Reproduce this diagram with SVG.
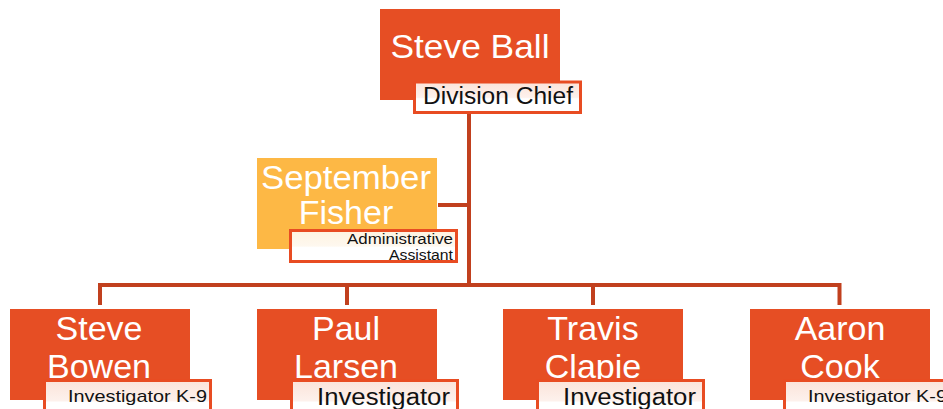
<svg xmlns="http://www.w3.org/2000/svg" width="943" height="409" viewBox="0 0 943 409">
<defs>
<linearGradient id="lg" x1="0" y1="0" x2="0" y2="1">
<stop offset="0" stop-color="#FBE3D9"/>
<stop offset="0.5" stop-color="#FDF1EC"/>
<stop offset="0.55" stop-color="#FFFFFF"/>
<stop offset="1" stop-color="#FFFFFF"/>
</linearGradient>
<linearGradient id="lgy" x1="0" y1="0" x2="0" y2="1">
<stop offset="0" stop-color="#FEF3E0"/>
<stop offset="0.5" stop-color="#FEF8EF"/>
<stop offset="0.55" stop-color="#FFFFFF"/>
<stop offset="1" stop-color="#FFFFFF"/>
</linearGradient>
</defs>
<style>
.box{fill:#E64E24;}
.boxy{fill:#FDB845;}
.lbl{fill:url(#lg);stroke:#E84C22;stroke-width:3;}
.lbly{fill:url(#lgy);stroke:#E84C22;stroke-width:3;}
.name{font-family:"Liberation Sans",Arial,sans-serif;fill:#FFFFFF;text-anchor:middle;font-size:34px;}
.t{font-family:"Liberation Sans",Arial,sans-serif;fill:#111111;}
.conn{stroke:#C1401E;stroke-width:4;fill:none;}
</style>
<rect width="943" height="409" fill="#FFFFFF"/>
<g id="connectors">
<path class="conn" d="M469 112 V285"/>
<path class="conn" d="M438 205 H469"/>
<path class="conn" d="M100 305 V285 H839.5 V305"/>
<path class="conn" d="M347 285 V305"/>
<path class="conn" d="M593 285 V305"/>
</g>
<g id="steve-ball">
<rect class="box" x="380" y="9" width="180" height="91"/>
<text class="name" x="470" y="58" textLength="159" lengthAdjust="spacingAndGlyphs">Steve Ball</text>
<rect class="lbl" x="414.5" y="82" width="166" height="30.5"/>
<text class="t" x="423" y="104" font-size="23" textLength="150" lengthAdjust="spacingAndGlyphs">Division Chief</text>
</g>
<g id="september-fisher">
<rect class="boxy" x="257" y="158" width="180" height="91"/>
<text class="name" x="346" y="189" font-size="31" textLength="170" lengthAdjust="spacingAndGlyphs">September</text>
<text class="name" x="346" y="224" font-size="31">Fisher</text>
<rect class="lbly" x="290.5" y="230.5" width="166" height="31"/>
<text class="t" x="453" y="244" font-size="14" text-anchor="end" textLength="106" lengthAdjust="spacingAndGlyphs">Administrative</text>
<text class="t" x="453" y="260" font-size="14" text-anchor="end" textLength="64" lengthAdjust="spacingAndGlyphs">Assistant</text>
</g>
<g id="steve-bowen">
<rect class="box" x="10" y="309" width="180" height="91"/>
<text class="name" x="99" y="340">Steve</text>
<text class="name" x="99" y="378">Bowen</text>
<rect class="lbl" x="44.5" y="380.5" width="166" height="40"/>
<text class="t" x="68" y="402" font-size="17" textLength="139" lengthAdjust="spacingAndGlyphs">Investigator K-9</text>
</g>
<g id="paul-larsen">
<rect class="box" x="257" y="309" width="180" height="91"/>
<text class="name" x="346" y="340">Paul</text>
<text class="name" x="346" y="378">Larsen</text>
<rect class="lbl" x="291.5" y="380.5" width="166" height="40"/>
<text class="t" x="317" y="405" font-size="23" textLength="133" lengthAdjust="spacingAndGlyphs">Investigator</text>
</g>
<g id="travis-clapie">
<rect class="box" x="503" y="309" width="180" height="91"/>
<text class="name" x="593" y="340">Travis</text>
<text class="name" x="593" y="378">Clapie</text>
<rect class="lbl" x="537.5" y="380.5" width="166" height="40"/>
<text class="t" x="563" y="405" font-size="23" textLength="133" lengthAdjust="spacingAndGlyphs">Investigator</text>
</g>
<g id="aaron-cook">
<rect class="box" x="750" y="309" width="180" height="91"/>
<text class="name" x="840" y="340">Aaron</text>
<text class="name" x="840" y="378">Cook</text>
<rect class="lbl" x="784.5" y="380.5" width="166" height="40"/>
<text class="t" x="808" y="402" font-size="17" textLength="139" lengthAdjust="spacingAndGlyphs">Investigator K-9</text>
</g>
</svg>
